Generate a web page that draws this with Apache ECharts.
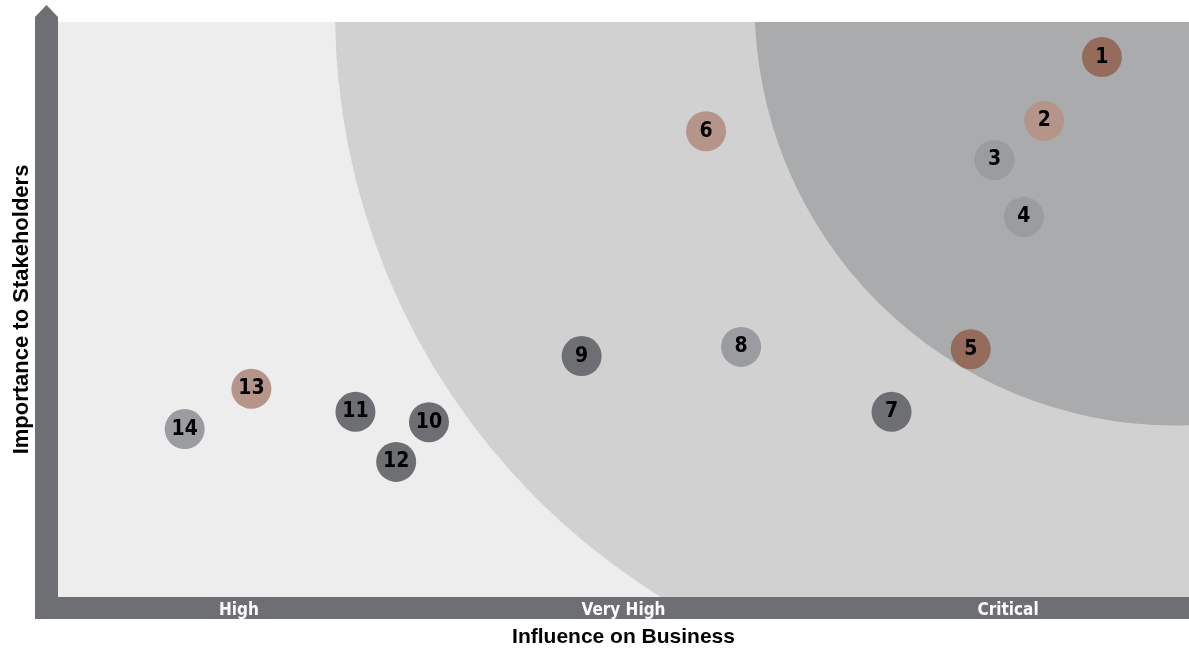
<!DOCTYPE html>
<html>
<head>
<meta charset="utf-8">
<script src="https://cdn.jsdelivr.net/npm/echarts@6/dist/echarts.min.js"></script>
<style>
  html, body { margin: 0; padding: 0; background: #fff; }
  #materialityChart { width: 1189px; height: 651px; }
</style>
</head>
<body>
<div id="materialityChart"></div>
<script>
// topics (bubble numbers) and where they sit
const topicIds = [1, 2, 3, 4, 5, 6, 7, 8, 9, 10, 11, 12, 13, 14];
const influence = [92.3, 87.2, 82.8, 85.4, 80.7, 57.3, 73.7, 60.4, 46.3, 32.8, 26.3, 29.9, 17.1, 11.2];
const importance = [93.9, 82.8, 76.0, 66.1, 43.1, 81.0, 32.2, 43.5, 41.9, 30.4, 32.2, 23.5, 36.2, 29.2];
const topicGroup = [0, 1, 2, 2, 0, 1, 3, 2, 3, 3, 3, 3, 1, 2];

// x axis tick labels
const tickValues = [16, 50, 84];
const tickNames = ["High", "Very High", "Critical"];

// background zones: centre x, centre y, radius (x units)
const zoneCx = [85.3, 98.8];
const zoneCy = [101.7, 103.0];
const zoneR = [60.8, 37.2];

const groupColors = ["#956C5C", "#B59589", "#9B9CA0", "#6E6F73"];
const zoneColors = ["#D0D1D0", "#AAABAC"];
const axisGrey = "#6E6F73";
const narrow = '"Liberation Sans Narrow", "DejaVu Sans Condensed", sans-serif';

let myChart = echarts.init(document.getElementById("materialityChart"));

let option = {
  animation: false,
  grid: {
    left: 58,
    right: 0,
    top: 22,
    bottom: 54,
    outerBoundsMode: "none",
    containLabel: false,
    show: true,
    backgroundColor: "#EDEDED",
    borderWidth: 0
  },
  xAxis: {
    type: "value",
    min: 0,
    max: 100,
    offset: 11,
    z: 5,
    name: "Influence on Business",
    nameLocation: "middle",
    nameGap: 19,
    nameTextStyle: {
      color: "#000",
      fontFamily: "Liberation Sans, Arial, sans-serif",
      fontWeight: "bold",
      fontSize: 21
    },
    axisLine: { onZero: false, lineStyle: { color: axisGrey, width: 22, cap: "butt" } },
    axisTick: { show: false },
    splitLine: { show: false },
    axisLabel: {
      customValues: tickValues,
      formatter: v => tickNames[tickValues.indexOf(v)],
      color: "#fff",
      fontFamily: narrow,
      fontWeight: "bold",
      fontSize: 17,
      verticalAlign: "middle",
      margin: 3
    }
  },
  yAxis: {
    type: "value",
    min: 0,
    max: 100,
    offset: 11.5,
    z: 5,
    name: "Importance to Stakeholders",
    nameLocation: "middle",
    nameGap: 14,
    nameTextStyle: {
      color: "#000",
      fontFamily: "Liberation Sans, Arial, sans-serif",
      fontWeight: "bold",
      fontSize: 22
    },
    axisLine: { onZero: false, lineStyle: { color: axisGrey, width: 23, cap: "butt" } },
    axisTick: { show: false },
    splitLine: { show: false },
    axisLabel: { show: false }
  },
  graphic: [
    {
      // arrow head on top of the vertical axis
      type: "polygon",
      shape: { points: [[35, 22], [35, 17], [46.5, 5], [58, 17], [58, 22]] },
      style: { fill: axisGrey },
      silent: true
    },
    {
      // corner where both axes meet
      type: "rect",
      shape: { x: 35, y: 596, width: 23, height: 23 },
      style: { fill: axisGrey },
      silent: true
    }
  ],
  series: [
    {
      type: "custom",
      clip: true,
      silent: true,
      z: 1,
      data: zoneCx.map((cx, i) => [cx, zoneCy[i], zoneR[i]]),
      renderItem: function (params, api) {
        let c = api.coord([api.value(0), api.value(1)]);
        let r = api.size([api.value(2), 0])[0];
        return {
          type: "circle",
          shape: { cx: c[0], cy: c[1], r: r },
          style: { fill: zoneColors[params.dataIndex] }
        };
      }
    },
    {
      type: "scatter",
      z: 3,
      symbolSize: 40,
      data: topicIds.map((id, i) => ({
        value: [influence[i], importance[i]],
        name: String(id),
        itemStyle: { color: groupColors[topicGroup[i]], opacity: 1 }
      })),
      label: {
        show: true,
        position: "inside",
        formatter: p => p.name,
        color: "#000",
        fontFamily: narrow,
        fontWeight: "bold",
        fontSize: 21
      }
    }
  ]
};

myChart.setOption(option);
window.addEventListener("resize", () => myChart.resize(), false);
</script>
</body>
</html>
